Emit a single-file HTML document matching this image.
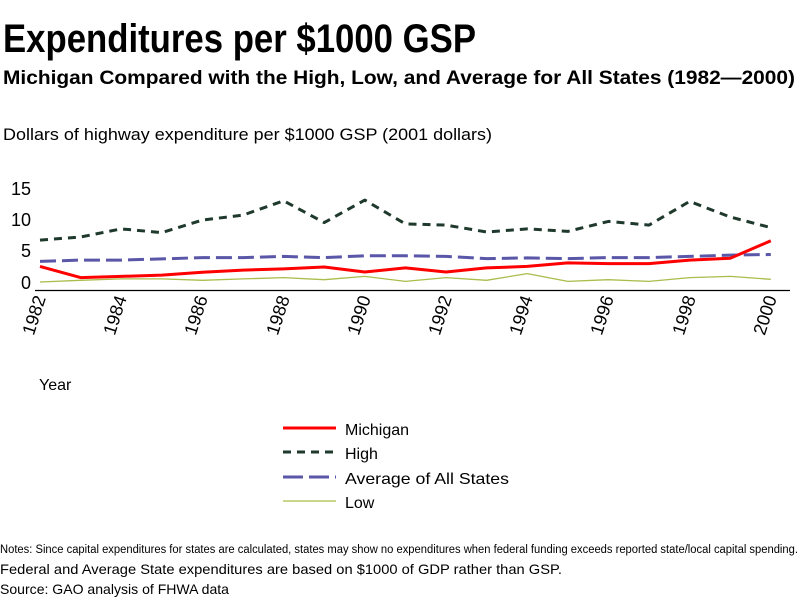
<!DOCTYPE html>
<html><head><meta charset="utf-8"><style>
html,body{margin:0;padding:0;background:#fff;}
svg{display:block;font-family:"Liberation Sans",sans-serif;}
</style></head><body>
<svg width="800" height="600" viewBox="0 0 800 600">
<text x="3" y="52" font-size="40" font-weight="bold" textLength="473" lengthAdjust="spacingAndGlyphs">Expenditures per $1000 GSP</text>
<text x="3" y="84" font-size="19" font-weight="bold" textLength="792" lengthAdjust="spacingAndGlyphs">Michigan Compared with the High, Low, and Average for All States (1982—2000)</text>
<text x="3" y="140" font-size="17" textLength="489" lengthAdjust="spacingAndGlyphs">Dollars of highway expenditure per $1000 GSP  (2001 dollars)</text>
<g font-size="18" text-anchor="end">
<text x="31" y="195">15</text><text x="31" y="226">10</text><text x="31" y="257">5</text><text x="31" y="289">0</text>
</g>
<line x1="35" y1="290.5" x2="790" y2="290.5" stroke="#000" stroke-width="1.2"/>
<g font-size="18" text-anchor="end">
<text transform="translate(46,298) rotate(-72)">1982</text>
<text transform="translate(127,298) rotate(-72)">1984</text>
<text transform="translate(208,298) rotate(-72)">1986</text>
<text transform="translate(290,298) rotate(-72)">1988</text>
<text transform="translate(371,298) rotate(-72)">1990</text>
<text transform="translate(452,298) rotate(-72)">1992</text>
<text transform="translate(533,298) rotate(-72)">1994</text>
<text transform="translate(614,298) rotate(-72)">1996</text>
<text transform="translate(696,298) rotate(-72)">1998</text>
<text transform="translate(777,298) rotate(-72)">2000</text>
</g>
<text x="39" y="390" font-size="16">Year</text>
<g fill="none" stroke-linejoin="round">
<polyline stroke="#a8bd4a" stroke-width="1.3" points="40,282 80.6,280.3 121.2,278.9 161.8,278.9 202.4,280.3 243,278.9 283.6,277.6 324.2,279.7 364.8,276.4 405.4,281.4 446,277.6 486.6,280.3 527.2,273.6 567.8,281.4 608.4,279.7 649,281.4 689.6,277.6 730.2,276.4 770.8,279.3"/>
<polyline stroke="#5a56a8" stroke-width="3" stroke-dasharray="16,6" points="40,261.4 80.6,260.1 121.2,260.1 161.8,258.9 202.4,257.6 243,257.6 283.6,256.4 324.2,257.6 364.8,255.8 405.4,255.8 446,256.4 486.6,258.6 527.2,257.9 567.8,258.6 608.4,257.6 649,257.6 689.6,256.4 730.2,255.1 770.8,254.5"/>
<polyline stroke="#1f3a2c" stroke-width="3" stroke-dasharray="8,6" points="40,240.1 80.6,237 121.2,228.9 161.8,232.6 202.4,220.1 243,215.1 283.6,200.8 324.2,222.6 364.8,200.1 405.4,223.9 446,225.1 486.6,232 527.2,228.9 567.8,231.4 608.4,221.4 649,225.1 689.6,201.4 730.2,217 770.8,227.6"/>
<polyline stroke="#ff0000" stroke-width="3" points="40,266.4 80.6,277.6 121.2,276.4 161.8,275.1 202.4,272.3 243,270.1 283.6,268.9 324.2,267 364.8,272 405.4,267.9 446,272 486.6,267.9 527.2,266.4 567.8,262.9 608.4,263.6 649,263.6 689.6,260.1 730.2,258.3 770.8,240.8"/>
</g>
<line x1="283" y1="428" x2="336" y2="428" stroke="#ff0000" stroke-width="3"/>
<line x1="283" y1="452" x2="336" y2="452" stroke="#1f3a2c" stroke-width="3" stroke-dasharray="8,6"/>
<line x1="283" y1="477" x2="336" y2="477" stroke="#5a56a8" stroke-width="3" stroke-dasharray="20,6"/>
<line x1="283" y1="501" x2="336" y2="501" stroke="#a8bd4a" stroke-width="1.3"/>
<g font-size="16">
<text x="345" y="435">Michigan</text>
<text x="345" y="459">High</text>
<text x="345" y="484" textLength="164" lengthAdjust="spacingAndGlyphs">Average  of  All  States</text>
<text x="345" y="508">Low</text>
</g>
<text x="0" y="553" font-size="11.5" textLength="798" lengthAdjust="spacingAndGlyphs">Notes: Since capital expenditures for states are calculated, states may show no expenditures when federal funding exceeds reported state/local capital spending.</text>
<text x="0" y="574" font-size="14" textLength="562" lengthAdjust="spacingAndGlyphs">Federal and Average State expenditures are based on $1000 of GDP rather than GSP.</text>
<text x="0" y="594" font-size="14" textLength="229" lengthAdjust="spacingAndGlyphs">Source: GAO  analysis of FHWA data</text>
</svg>
</body></html>
